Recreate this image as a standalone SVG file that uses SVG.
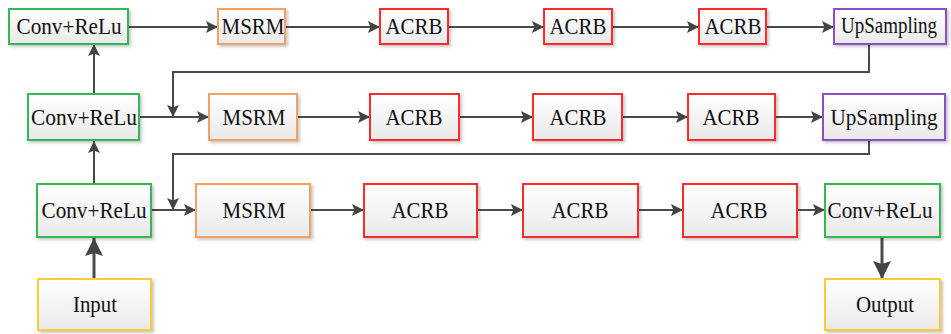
<svg xmlns="http://www.w3.org/2000/svg" width="951" height="334" viewBox="0 0 951 334">
<defs>
<linearGradient id="g" x1="0" y1="0" x2="0" y2="1"><stop offset="0" stop-color="#ffffff"/><stop offset="1" stop-color="#e9e9e9"/></linearGradient>
<filter id="sh" x="-10%" y="-10%" width="130%" height="140%"><feDropShadow dx="2" dy="2" stdDeviation="1.5" flood-color="#000" flood-opacity="0.22"/></filter>
<marker id="a" markerUnits="userSpaceOnUse" markerWidth="12" markerHeight="12" refX="10" refY="5" orient="auto" viewBox="0 0 10 10"><path d="M0,0 L10,5 L0,10 L2,5 z" fill="#444"/></marker>
<marker id="b" markerUnits="userSpaceOnUse" markerWidth="18" markerHeight="18" refX="18" refY="9" orient="auto" viewBox="0 0 18 18"><path d="M0,0 L18,9 L0,18 L3,9 z" fill="#444"/></marker>
<style>
rect{fill:url(#g);stroke-width:2;filter:url(#sh)}
.gr rect{stroke:#33b855}.or rect{stroke:#f3a064}.rd rect{stroke:#ff2b2b}.pu rect{stroke:#8c4fc4}.ye rect{stroke:#ffcb33}
text{font-family:'Liberation Serif','Times New Roman',serif;font-size:23px;fill:#111;text-anchor:middle}
.c path{fill:none;stroke:#4a4a4a;stroke-width:2}
.c .t{stroke-width:3}
</style>
</defs>
<g class="c" id="connectors">
<path d="M128,27 H218" marker-end="url(#a)"/>
<path d="M285,27 H380" marker-end="url(#a)"/>
<path d="M448,27 H544" marker-end="url(#a)"/>
<path d="M612,27 H699" marker-end="url(#a)"/>
<path d="M766,27 H834" marker-end="url(#a)"/>
<path d="M869,44 V72 H173 V117" marker-end="url(#a)"/>
<path d="M139,117 H209" marker-end="url(#a)"/>
<path d="M297,117 H370" marker-end="url(#a)"/>
<path d="M459,117 H533" marker-end="url(#a)"/>
<path d="M622,117 H688" marker-end="url(#a)"/>
<path d="M775,117 H823" marker-end="url(#a)"/>
<path d="M869,141 V154 H173 V210" marker-end="url(#a)"/>
<path d="M151,210 H196" marker-end="url(#a)"/>
<path d="M310,210 H364" marker-end="url(#a)"/>
<path d="M477,210 H523" marker-end="url(#a)"/>
<path d="M638,210 H683" marker-end="url(#a)"/>
<path d="M797,210 H825" marker-end="url(#a)"/>
<path d="M94,94 V44" marker-end="url(#a)"/>
<path d="M94,184 V141" marker-end="url(#a)"/>
<path class="t" d="M94,279 V238" marker-end="url(#b)"/>
<path class="t" d="M882,238 V279" marker-end="url(#b)"/>
</g>
<g id="conv1" class="gr"><rect x="9" y="9" width="119" height="35"/><text x="69" y="34" textLength="105" lengthAdjust="spacingAndGlyphs">Conv+ReLu</text></g>
<g id="msrm1" class="or"><rect x="218" y="9" width="67" height="35"/><text x="253" y="34" textLength="63" lengthAdjust="spacingAndGlyphs">MSRM</text></g>
<g id="acrb11" class="rd"><rect x="380" y="9" width="68" height="35"/><text x="414" y="34" textLength="57" lengthAdjust="spacingAndGlyphs">ACRB</text></g>
<g id="acrb12" class="rd"><rect x="544" y="9" width="68" height="35"/><text x="578" y="34" textLength="57" lengthAdjust="spacingAndGlyphs">ACRB</text></g>
<g id="acrb13" class="rd"><rect x="699" y="9" width="67" height="35"/><text x="733" y="34" textLength="57" lengthAdjust="spacingAndGlyphs">ACRB</text></g>
<g id="up1" class="pu"><rect x="834" y="9" width="112" height="35"/><text x="889" y="33" font-size="20" textLength="96" lengthAdjust="spacingAndGlyphs">UpSampling</text></g>
<g id="conv2" class="gr"><rect x="28" y="94" width="111" height="46"/><text x="84" y="125" textLength="106" lengthAdjust="spacingAndGlyphs">Conv+ReLu</text></g>
<g id="msrm2" class="or"><rect x="209" y="94" width="88" height="46"/><text x="254" y="125" textLength="63" lengthAdjust="spacingAndGlyphs">MSRM</text></g>
<g id="acrb21" class="rd"><rect x="370" y="94" width="89" height="46"/><text x="414" y="125" textLength="57" lengthAdjust="spacingAndGlyphs">ACRB</text></g>
<g id="acrb22" class="rd"><rect x="533" y="94" width="89" height="46"/><text x="578" y="125" textLength="57" lengthAdjust="spacingAndGlyphs">ACRB</text></g>
<g id="acrb23" class="rd"><rect x="688" y="94" width="87" height="46"/><text x="731" y="125" textLength="57" lengthAdjust="spacingAndGlyphs">ACRB</text></g>
<g id="up2" class="pu"><rect x="823" y="94" width="122" height="46"/><text x="884" y="125" textLength="107" lengthAdjust="spacingAndGlyphs">UpSampling</text></g>
<g id="conv3" class="gr"><rect x="37" y="184" width="114" height="53"/><text x="94" y="218" textLength="105" lengthAdjust="spacingAndGlyphs">Conv+ReLu</text></g>
<g id="msrm3" class="or"><rect x="196" y="184" width="114" height="53"/><text x="254" y="218" textLength="63" lengthAdjust="spacingAndGlyphs">MSRM</text></g>
<g id="acrb31" class="rd"><rect x="364" y="184" width="113" height="53"/><text x="420" y="218" textLength="57" lengthAdjust="spacingAndGlyphs">ACRB</text></g>
<g id="acrb32" class="rd"><rect x="523" y="184" width="115" height="53"/><text x="580" y="218" textLength="57" lengthAdjust="spacingAndGlyphs">ACRB</text></g>
<g id="acrb33" class="rd"><rect x="683" y="184" width="114" height="53"/><text x="739" y="218" textLength="57" lengthAdjust="spacingAndGlyphs">ACRB</text></g>
<g id="conv4" class="gr"><rect x="825" y="184" width="115" height="53"/><text x="880" y="218" textLength="105" lengthAdjust="spacingAndGlyphs">Conv+ReLu</text></g>
<g id="input" class="ye"><rect x="38" y="279" width="113" height="51"/><text x="95" y="312" textLength="44" lengthAdjust="spacingAndGlyphs">Input</text></g>
<g id="output" class="ye"><rect x="825" y="279" width="115" height="51"/><text x="885" y="312" textLength="58" lengthAdjust="spacingAndGlyphs">Output</text></g>
</svg>
